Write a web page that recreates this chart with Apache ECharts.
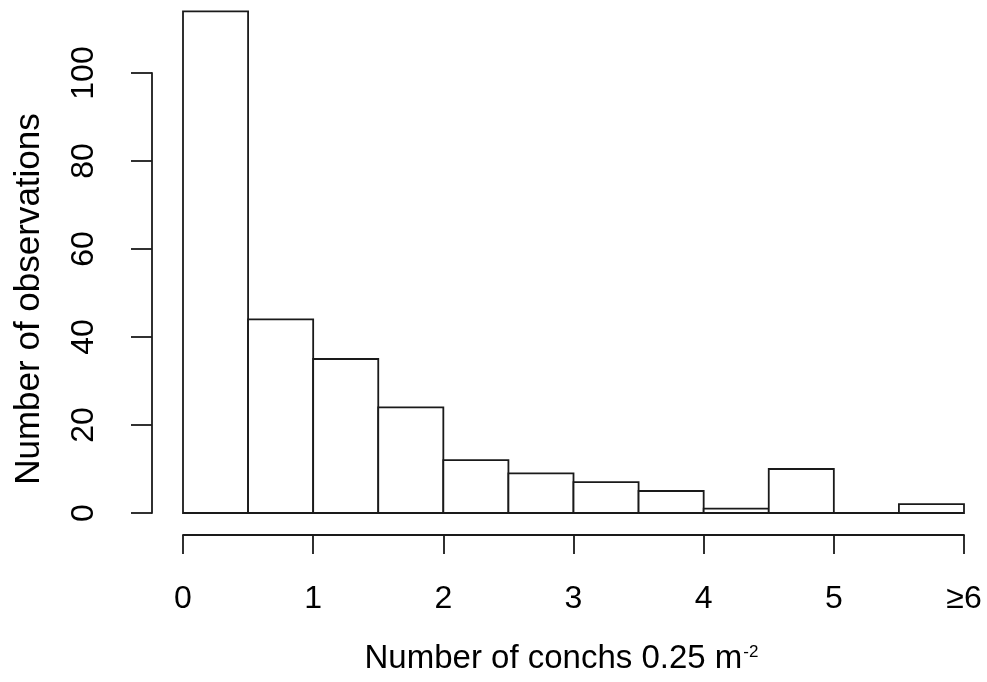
<!DOCTYPE html>
<html>
<head>
<meta charset="utf-8">
<script src="https://cdn.jsdelivr.net/npm/echarts@6/dist/echarts.min.js"></script>
<style>
  html, body { margin: 0; padding: 0; background: #fff; }
  #chart { width: 987px; height: 682px; }
</style>
</head>
<body>
<div id="chart"></div>
<script>
// Histogram bins (lower edge, upper edge) and counts
const binStarts = [0, 0.5, 1, 1.5, 2, 2.5, 3, 3.5, 4, 4.5, 5, 5.5];
const binEnds   = [0.5, 1, 1.5, 2, 2.5, 3, 3.5, 4, 4.5, 5, 5.5, 6];
const counts    = [114, 44, 35, 24, 12, 9, 7, 5, 1, 10, 0, 2];
const xTickLabels = ['0', '1', '2', '3', '4', '5', '≥6'];
const yTicks = [0, 20, 40, 60, 80, 100];

const FONT = 'Liberation Sans, Arial, Helvetica, sans-serif';
const data = binStarts.map((s, i) => [s, binEnds[i], counts[i]]);

const chart = echarts.init(document.getElementById('chart'), null, { renderer: 'canvas' });
chart.setOption({
  backgroundColor: '#ffffff',
  animation: false,
  grid: [
    { left: 183, right: 23, top: 7, bottom: 169 },      // bars
    { left: 152, width: 1, top: 73, bottom: 169 },      // y axis
    { left: 183, right: 23, top: 534, bottom: 147 }     // x axis
  ],
  xAxis: [
    { gridIndex: 0, type: 'value', min: 0, max: 6, show: false },
    { gridIndex: 1, type: 'value', min: 0, max: 1, show: false },
    {
      gridIndex: 2, type: 'value', min: 0, max: 6, interval: 1, position: 'bottom',
      axisLine: { show: true, lineStyle: { color: '#1a1a1a', width: 1.8 } },
      axisTick: { show: true, inside: false, length: 19, lineStyle: { color: '#1a1a1a', width: 1.8 } },
      splitLine: { show: false },
      axisLabel: {
        show: true, margin: 48, fontSize: 32, color: '#000', fontFamily: FONT,
        showMinLabel: true, showMaxLabel: true,
        formatter: v => xTickLabels[Math.round(v)]
      },
      name: '{a|Number of conchs 0.25 m}{s|-2}',
      nameLocation: 'middle',
      nameGap: 107,
      nameTextStyle: {
        color: '#000', fontFamily: FONT,
        padding: [0, 24, 0, 0],
        rich: {
          a: { fontSize: 33, color: '#000', fontFamily: FONT },
          s: { fontSize: 17, color: '#000', fontFamily: FONT, verticalAlign: 'top', padding: [2, 0, 0, 1] }
        }
      }
    }
  ],
  yAxis: [
    { gridIndex: 0, type: 'value', min: 0, max: 115, show: false },
    {
      gridIndex: 1, type: 'value', min: 0, max: 100, interval: 20, position: 'left',
      axisLine: { show: true, lineStyle: { color: '#1a1a1a', width: 1.8 } },
      axisTick: { show: true, inside: false, length: 21, lineStyle: { color: '#1a1a1a', width: 1.8 } },
      splitLine: { show: false },
      axisLabel: {
        show: true, rotate: 90, margin: 52, fontSize: 32, color: '#000', fontFamily: FONT,
        showMinLabel: true, showMaxLabel: true,
        formatter: v => (yTicks.indexOf(v) >= 0 ? String(v) : '')
      },
      name: 'Number of observations',
      nameLocation: 'middle',
      nameRotate: 90,
      nameGap: 105,
      nameTextStyle: { fontSize: 35, color: '#000', fontFamily: FONT, padding: [0, 12, 0, 0] }
    },
    { gridIndex: 2, type: 'value', min: 0, max: 1, show: false }
  ],
  series: [{
    type: 'custom',
    xAxisIndex: 0,
    yAxisIndex: 0,
    clip: false,
    encode: { x: [0, 1], y: 2 },
    data: data,
    renderItem: function (params, api) {
      const x0 = api.value(0), x1 = api.value(1), c = api.value(2);
      const pTop = api.coord([x0, c]);
      const pBot = api.coord([x1, 0]);
      return {
        type: 'rect',
        shape: { x: pTop[0], y: pTop[1], width: pBot[0] - pTop[0], height: pBot[1] - pTop[1] },
        style: { fill: '#ffffff', stroke: '#1a1a1a', lineWidth: 1.8 }
      };
    }
  }]
});
</script>
</body>
</html>
